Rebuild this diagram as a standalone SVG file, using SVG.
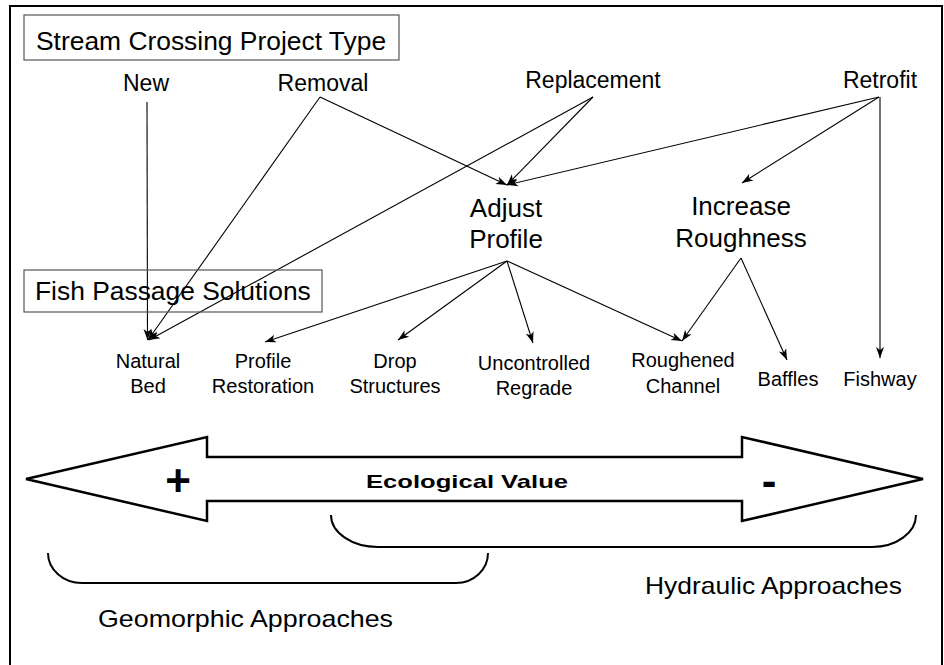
<svg xmlns="http://www.w3.org/2000/svg" width="944" height="665" viewBox="0 0 944 665">
<defs>
<marker id="ah" markerUnits="userSpaceOnUse" markerWidth="12" markerHeight="10" refX="11" refY="4" orient="auto" overflow="visible">
<path d="M0,0 L11,4 L0,8 L3,4 z" fill="#000"/>
</marker>
<style>
text{font-family:"Liberation Sans",Arial,sans-serif;fill:#000}
.title{font-size:26.4px}
.top{font-size:23px;text-anchor:middle}
.mid{font-size:26px;text-anchor:middle}
.leaf{font-size:20px;text-anchor:middle}
.box{fill:none;stroke:#555;stroke-width:1.2}
.c{fill:none;stroke:#000;stroke-width:1.1}
.a{marker-end:url(#ah)}
.bold{font-weight:bold}
.brace{fill:none;stroke:#000;stroke-width:2}
.bt{font-size:24px}
</style>
</defs>
<rect x="0" y="0" width="944" height="665" fill="#fff"/>
<rect x="10" y="6" width="932" height="680" fill="none" stroke="#000" stroke-width="2"/>

<g id="connectors">
<line class="c a" x1="147" y1="102" x2="147.5" y2="340"/>
<line class="c a" x1="320" y1="97" x2="148" y2="340"/>
<line class="c a" x1="593" y1="97" x2="149" y2="340"/>
<line class="c a" x1="320" y1="97" x2="507" y2="185"/>
<line class="c a" x1="593" y1="97" x2="507" y2="185"/>
<line class="c a" x1="879" y1="97" x2="507" y2="185"/>
<line class="c a" x1="879" y1="97" x2="742" y2="183"/>
<line class="c a" x1="880" y1="97" x2="880" y2="358"/>
<line class="c a" x1="507" y1="261" x2="265" y2="342"/>
<line class="c a" x1="507" y1="261" x2="398" y2="340"/>
<line class="c a" x1="507" y1="261" x2="533" y2="343"/>
<line class="c a" x1="507" y1="261" x2="682" y2="341"/>
<line class="c a" x1="741" y1="258" x2="682" y2="341"/>
<line class="c a" x1="741" y1="258" x2="787" y2="360"/>
</g>

<g id="stream-crossing-project-type">
<rect class="box" x="24" y="15" width="375" height="45"/>
<text class="title" x="36" y="50">Stream Crossing Project Type</text>
</g>
<g id="new"><text class="top" x="146" y="91">New</text></g>
<g id="removal"><text class="top" x="323" y="91">Removal</text></g>
<g id="replacement"><text class="top" x="593" y="88">Replacement</text></g>
<g id="retrofit"><text class="top" x="880" y="88">Retrofit</text></g>

<g id="adjust-profile">
<text class="mid" x="506" y="217">Adjust</text>
<text class="mid" x="506" y="248">Profile</text>
</g>
<g id="increase-roughness">
<text class="mid" x="741" y="215">Increase</text>
<text class="mid" x="741" y="247">Roughness</text>
</g>

<g id="fish-passage-solutions">
<rect class="box" x="24" y="270" width="298" height="42"/>
<text class="title" x="35" y="300">Fish Passage Solutions</text>
</g>

<g id="natural-bed">
<text class="leaf" x="148" y="368">Natural</text>
<text class="leaf" x="148" y="393">Bed</text>
</g>
<g id="profile-restoration">
<text class="leaf" x="263" y="368">Profile</text>
<text class="leaf" x="263" y="393">Restoration</text>
</g>
<g id="drop-structures">
<text class="leaf" x="395" y="368">Drop</text>
<text class="leaf" x="395" y="393">Structures</text>
</g>
<g id="uncontrolled-regrade">
<text class="leaf" x="534" y="370">Uncontrolled</text>
<text class="leaf" x="534" y="395">Regrade</text>
</g>
<g id="roughened-channel">
<text class="leaf" x="683" y="367">Roughened</text>
<text class="leaf" x="683" y="393">Channel</text>
</g>
<g id="baffles"><text class="leaf" x="788" y="386">Baffles</text></g>
<g id="fishway"><text class="leaf" x="880" y="386">Fishway</text></g>

<g id="ecological-value">
<polygon points="26,479 207,437 207,457 742,457 742,437 923,479 742,521 742,501 207,501 207,521" fill="#fff" stroke="#000" stroke-width="2.5" stroke-linejoin="miter"/>
<text class="bold" x="178" y="496" font-size="44" text-anchor="middle">+</text>
<text class="bold" x="769" y="496" font-size="44" text-anchor="middle">-</text>
<text class="bold" x="366" y="488" font-size="19" textLength="202" lengthAdjust="spacingAndGlyphs">Ecological Value</text>
</g>

<g id="hydraulic-approaches">
<path class="brace" d="M331,515 A47,32 0 0 0 378,547 L872,547 A44,32 0 0 0 916,515"/>
<text class="bt" x="645" y="594" textLength="257" lengthAdjust="spacingAndGlyphs">Hydraulic Approaches</text>
</g>
<g id="geomorphic-approaches">
<path class="brace" d="M48,553 A34,30 0 0 0 82,583 L456,583 A32,30 0 0 0 488,553"/>
<text class="bt" x="98" y="627" textLength="295" lengthAdjust="spacingAndGlyphs">Geomorphic Approaches</text>
</g>
</svg>
